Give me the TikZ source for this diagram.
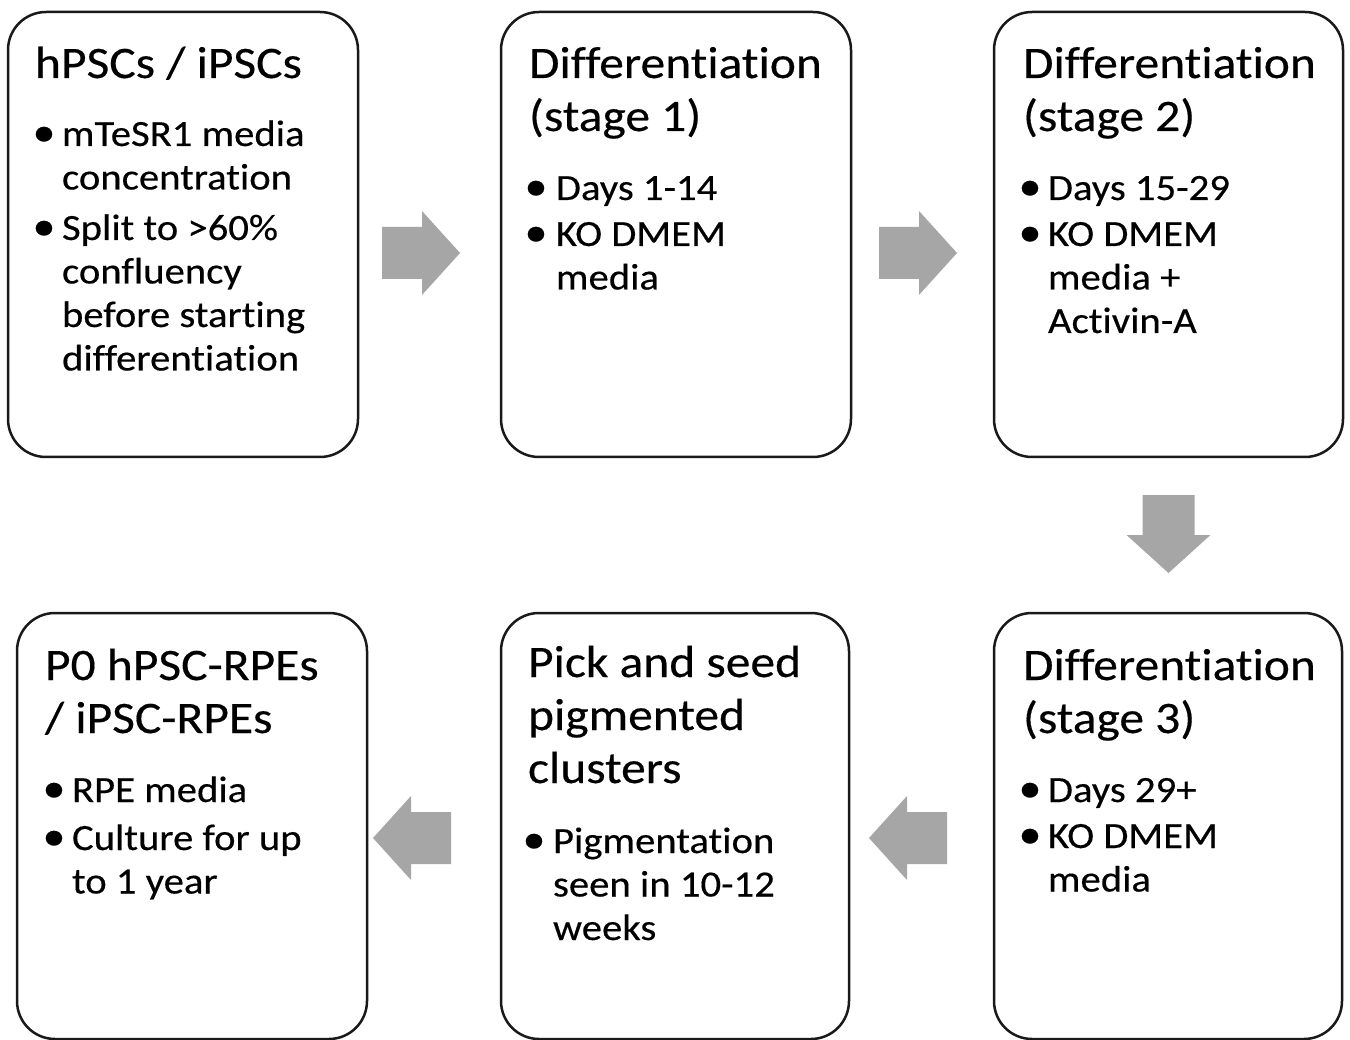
\documentclass[tikz,border=0pt]{standalone}
\usepackage{fontspec}
\setmainfont{Carlito}[FakeStretch=1.1, FakeBold=0.35, Ligatures=CommonOff]
\usetikzlibrary{calc}
\definecolor{arrowgray}{RGB}{166,166,166}
\definecolor{boxline}{RGB}{25,25,25}
\newcommand\ttlfont{\fontsize{45}{53}\selectfont}
\newcommand\bdyfont{\fontsize{37}{43.5}\selectfont}
\newcommand\bulfont{\fontsize{42}{43.5}\selectfont}
\newcommand\lns[1]{\vtop{#1}}
\tikzset{
  stagebox/.style={draw=boxline, line width=2.5pt, fill=white, rounded corners=38pt,
    inner sep=0pt, outer sep=0pt},
  ttlnode/.style={anchor=base west, inner sep=0pt, outer sep=0pt, font=\ttlfont},
  txtnode/.style={anchor=base west, inner sep=0pt, outer sep=0pt, font=\bdyfont},
  bulnode/.style={anchor=base, inner sep=0pt, outer sep=0pt, font=\bulfont},
  barrow/.pic={\fill[arrowgray] (0,-26) -- (40,-26) -- (40,-42) -- (78,0) -- (40,42) -- (40,26) -- (0,26) -- cycle;}
}
\begin{document}
\begin{tikzpicture}[x=1pt,y=-1pt]
\useasboundingbox (0,0) rectangle (1350,1040);
\fill[white] (0,0) rectangle (1350,1040);

% boxes
\node[stagebox, minimum width=350pt, minimum height=445pt] (b1) at (183,234.5) {};
\node[stagebox, minimum width=350pt, minimum height=445pt] (b2) at (676,234.5) {};
\node[stagebox, minimum width=349pt, minimum height=445pt] (b3) at (1168.5,234.5) {};
\node[stagebox, minimum width=350pt, minimum height=426pt] (b4) at (192,826) {};
\node[stagebox, minimum width=348pt, minimum height=426pt] (b5) at (675,826) {};
\node[stagebox, minimum width=348pt, minimum height=426pt] (b6) at (1168,826) {};

% box 1
\node[ttlnode] (t1) at (35,78) {hPSCs / iPSCs};
\node[bulnode] (d11) at (44,146) {•};
\node[txtnode] (x11) at (62,146) {\lns{\hbox{mTeSR1 media}\hbox{concentration}}};
\node[bulnode] (d12) at (44,240) {•};
\node[txtnode] (x12) at (62,240) {\lns{\hbox{Split to >60\%}\hbox{confluency}\hbox{before starting}\hbox{differentiation}}};

% box 2
\node[ttlnode] (t2) at (529,78) {\lns{\hbox{Differentiation}\hbox{(stage 1)}}};
\node[bulnode] (d21) at (536,200) {•};
\node[txtnode] (x21) at (556,200) {Days 1-14};
\node[bulnode] (d22) at (536,246) {•};
\node[txtnode] (x22) at (556,246) {\lns{\hbox{KO DMEM}\hbox{media}}};

% box 3
\node[ttlnode] (t3) at (1023,78) {\lns{\hbox{Differentiation}\hbox{(stage 2)}}};
\node[bulnode] (d31) at (1030,200) {•};
\node[txtnode] (x31) at (1048,200) {Days 15-29};
\node[bulnode] (d32) at (1030,246) {•};
\node[txtnode] (x32) at (1048,246) {\lns{\hbox{KO DMEM}\hbox{media +}\hbox{Activin-A}}};

% box 4
\node[ttlnode] (t4) at (45,680) {\lns{\hbox{P0 hPSC-RPEs}\hbox{/ iPSC-RPEs}}};
\node[bulnode] (d41) at (54,802) {•};
\node[txtnode] (x41) at (72,802) {RPE media};
\node[bulnode] (d42) at (54,850) {•};
\node[txtnode] (x42) at (72,850) {\lns{\hbox{Culture for up}\hbox{to 1 year}}};

% box 5
\node[ttlnode] (t5) at (528,677) {\lns{\hbox{Pick and seed}\hbox{pigmented}\hbox{clusters}}};
\node[bulnode] (d51) at (534,853) {•};
\node[txtnode] (x51) at (553,853) {\lns{\hbox{Pigmentation}\hbox{seen in 10-12}\hbox{weeks}}};

% box 6
\node[ttlnode] (t6) at (1023,680) {\lns{\hbox{Differentiation}\hbox{(stage 3)}}};
\node[bulnode] (d61) at (1030,802) {•};
\node[txtnode] (x61) at (1048,802) {Days 29+};
\node[bulnode] (d62) at (1030,848) {•};
\node[txtnode] (x62) at (1048,848) {\lns{\hbox{KO DMEM}\hbox{media}}};

% block arrows
\pic (a12) at ($(b1.east)+(24,18.5)$) {barrow};
\pic (a23) at ($(b2.east)+(28,18.5)$) {barrow};
\pic[rotate=-90] (a36) at ($(b3.south)+(0,38)$) {barrow};
\pic[rotate=180] (a65) at ($(b6.west)+(-47,12)$) {barrow};
\pic[rotate=180] (a54) at ($(b5.west)+(-50,12)$) {barrow};
\end{tikzpicture}
\end{document}
